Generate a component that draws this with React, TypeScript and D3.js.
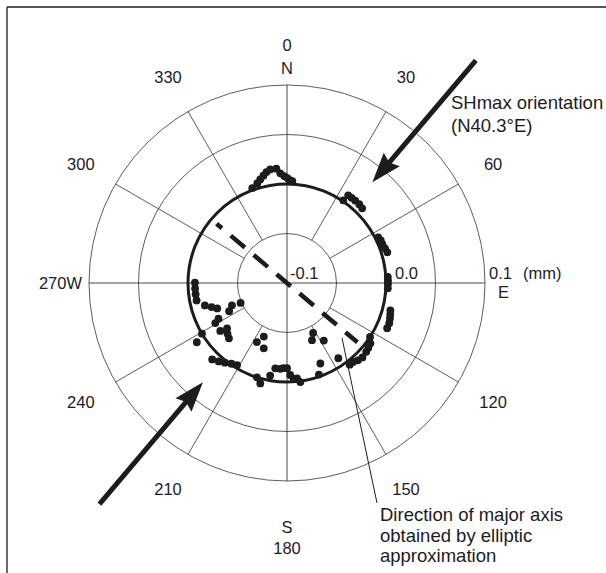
import React from "react";
import * as d3 from "d3";

// ---- data ----
// bearings (deg from N, clockwise) and radial displacement (mm)
const northBearings = [339.9, 343.4, 345.5, 347.6, 349.5, 351.6, 354.7, 356.5, 358.5, 0.2, 1.5, 3.0];
const northValues = [0.002, 0.005, 0.008, 0.011, 0.014, 0.016, 0.016, 0.011, 0.008, 0.006, 0.004, 0.003];
const eastBearings = [34.2, 34.9, 37.2, 39.6, 42.5, 45.2, 63.4, 65.6, 67.9, 70.5, 73, 86.5, 88.5, 90.5, 93, 104.8, 107, 109, 111.5, 114.3];
const eastValues = [0.001, 0.008, 0.008, 0.008, 0.008, 0.007, 0.003, 0.004, 0.004, 0.005, 0.006, 0.002, 0.002, 0.002, 0.002, 0.008, 0.009, 0.010, 0.011, 0.011];
const southEastBearings = [123, 125.9, 128.5, 131, 134.6, 137.5, 140.1, 142.5, 145.7, 147.4, 152.4, 156.4, 157.5, 160.8];
const southEastValues = [0.000, 0.004, 0.005, 0.006, 0.007, 0.006, 0.004, 0.004, -0.008, -0.031, -0.043, -0.037, -0.012, -0.002];
const southBearings = [172.3, 174, 176, 178, 180, 182.5, 184.5, 187.8, 190.3, 194.9, 197.7, 199.6, 203.4, 207];
const southValues = [0.001, -0.003, -0.003, -0.007, -0.014, -0.014, -0.013, -0.013, -0.005, 0.005, 0.000, -0.030, -0.041, -0.033];
const southWestBearings = [211.3, 214.5, 217.9, 221, 224.4, 226.4, 229.5, 232.8, 234.3, 236.7, 239.2, 240.8, 242.5, 244, 246.8, 247.9, 250, 252.3, 254.7];
const southWestValues = [-0.003, -0.001, 0.002, 0.005, 0.008, -0.019, -0.021, -0.024, -0.017, 0.009, 0.000, -0.017, -0.022, -0.035, -0.049, -0.040, -0.025, -0.020, -0.014];
const westBearings = [259.1, 263, 266.5, 270.2];
const westValues = [-0.007, -0.007, -0.007, -0.007];

const ringValues = [-0.05, 0.0, 0.05, 0.1];
const ringLabelValues = [-0.1, 0.0, 0.1];
const ringLabelTexts = ["-0.1", "0.0", "0.1"];
const spokeAngles = [30, 60, 120, 150, 210, 240, 300, 330];
const axisAngles = [0, 90];
const angleLabelAngles = [0, 30, 60, 120, 150, 210, 240, 300, 330];
const angleLabelTexts = ["0", "30", "60", "120", "150", "210", "240", "300", "330"];

const shmaxBearing = 40.3;
const majorAxisBearing = 130.1;
const majorAxisReach = -0.007; // radial value where the dashed axis ends

const W = 606;
const H = 573;
const cx = 287;
const cy = 283;
const R = 198;
const INK = "#1c1c1c";
const FONT = "'Liberation Sans', Arial, sans-serif";

const rScale = d3.scaleLinear().domain([-0.1, 0.1]).range([0, R]);

function polar(deg: number, r: number): [number, number] {
  const a = (deg * Math.PI) / 180;
  return [cx + r * Math.sin(a), cy - r * Math.cos(a)];
}

function Arrow({ bearing, rTail, rTip }: { bearing: number; rTail: number; rTip: number }) {
  const headLen = 30;
  const headHalf = 10.5;
  const [tx, ty] = polar(bearing, rTail);
  const [px, py] = polar(bearing, rTip);
  const ux = (px - tx) / Math.hypot(px - tx, py - ty);
  const uy = (py - ty) / Math.hypot(px - tx, py - ty);
  const bx = px - ux * headLen;
  const by = py - uy * headLen;
  const nx = -uy;
  const ny = ux;
  const pts = [
    [px, py],
    [bx + nx * headHalf, by + ny * headHalf],
    [bx + ux * 4, by + uy * 4],
    [bx - nx * headHalf, by - ny * headHalf],
  ];
  return (
    <g>
      <line x1={tx} y1={ty} x2={bx + ux * 5} y2={by + uy * 5} stroke={INK} strokeWidth={5} />
      <polygon points={pts.map((p) => p.join(",")).join(" ")} fill={INK} />
    </g>
  );
}

export default function App() {
  const groups: [number[], number[]][] = [
    [northBearings, northValues],
    [eastBearings, eastValues],
    [southEastBearings, southEastValues],
    [southBearings, southValues],
    [southWestBearings, southWestValues],
    [westBearings, westValues],
  ];
  const points: [number, number][] = [];
  groups.forEach(([bs, vs]) => bs.forEach((b, i) => points.push(polar(b, rScale(vs[i])))));

  const rMajor = rScale(majorAxisReach);
  const [m1x, m1y] = polar(majorAxisBearing + 180, rMajor);
  const [m2x, m2y] = polar(majorAxisBearing, rMajor);

  const numStyle = { fontFamily: FONT, fontSize: 16.5, fill: INK } as const;
  const annStyle = { fontFamily: FONT, fontSize: 18.5, fill: INK } as const;

  return (
    <svg width={W} height={H} style={{ position: "absolute", left: 0, top: 0, background: "#fff" }}>
      {/* frame */}
      <line x1={7} y1={7} x2={W} y2={7} stroke={INK} strokeWidth={1.3} />
      <line x1={7} y1={7} x2={7} y2={H} stroke={INK} strokeWidth={1.3} />

      {/* rings */}
      {ringValues.map((v) => (
        <circle key={v} cx={cx} cy={cy} r={rScale(v)} fill="none" stroke="#333" strokeWidth={0.8} />
      ))}
      {/* spokes */}
      {spokeAngles.map((a) => {
        const [x1, y1] = polar(a, rScale(-0.05));
        const [x2, y2] = polar(a, R);
        return <line key={a} x1={x1} y1={y1} x2={x2} y2={y2} stroke="#333" strokeWidth={0.8} />;
      })}
      {axisAngles.map((a) => {
        const [x1, y1] = polar(a + 180, R);
        const [x2, y2] = polar(a, R);
        return <line key={a} x1={x1} y1={y1} x2={x2} y2={y2} stroke="#333" strokeWidth={0.9} />;
      })}
      {/* zero ring */}
      <circle cx={cx} cy={cy} r={rScale(0)} fill="none" stroke={INK} strokeWidth={3} />

      {/* points */}
      {points.map(([x, y], i) => (
        <circle key={i} cx={x} cy={y} r={3.9} fill={INK} />
      ))}

      {/* major axis */}
      <line
        x1={m1x}
        y1={m1y}
        x2={m2x}
        y2={m2y}
        stroke={INK}
        strokeWidth={4.5}
        strokeDasharray="18.5 11.5"
        strokeDashoffset={11.5}
      />

      {/* SHmax arrows */}
      <Arrow bearing={shmaxBearing} rTail={292} rTip={132} />
      <Arrow bearing={shmaxBearing + 180} rTail={290} rTip={130} />

      {/* angle labels */}
      {angleLabelAngles.map((a, i) => {
        const [x, y] = polar(a, 238);
        return (
          <text key={a} x={x} y={y} dy="0.36em" textAnchor="middle" style={numStyle}>
            {angleLabelTexts[i]}
          </text>
        );
      })}
      <text x={cx} y={polar(180, 265)[1]} dy="0.36em" textAnchor="middle" style={numStyle}>180</text>
      <text x={cx - R - 7} y={cy} dy="0.36em" textAnchor="end" style={numStyle}>270W</text>
      <text x={cx} y={polar(0, 215)[1]} dy="0.36em" textAnchor="middle" style={numStyle}>N</text>
      <text x={cx} y={polar(180, 244)[1]} dy="0.36em" textAnchor="middle" style={numStyle}>S</text>

      {/* ring labels */}
      {ringLabelValues.map((v, i) => (
        <text key={v} x={cx + rScale(v) + (i === 0 ? 3 : i === 1 ? 9 : 4)} y={cy - 10} dy="0.36em" style={numStyle}>
          {ringLabelTexts[i]}
        </text>
      ))}
      <text x={cx + R + 38} y={cy - 10} dy="0.36em" style={numStyle}>(mm)</text>
      <text x={cx + R + 13} y={cy + 9} dy="0.36em" style={numStyle}>E</text>

      {/* annotations */}
      <text x={451} y={102} dy="0.36em" style={annStyle}>SHmax orientation</text>
      <text x={451} y={125} dy="0.36em" style={annStyle}>(N40.3°E)</text>
      <line x1={377} y1={503} x2={342} y2={338} stroke={INK} strokeWidth={1} />
      <text x={380} y={514} dy="0.36em" style={annStyle}>Direction of major axis</text>
      <text x={380} y={535} dy="0.36em" style={annStyle}>obtained by elliptic</text>
      <text x={380} y={555} dy="0.36em" style={annStyle}>approximation</text>
    </svg>
  );
}
